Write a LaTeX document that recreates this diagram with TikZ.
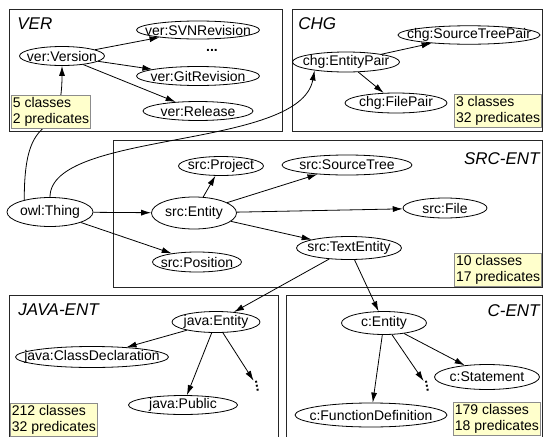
\documentclass[tikz,border=0pt]{standalone}
\usepackage{fontspec}
\setmainfont{Liberation Sans}
\usetikzlibrary{arrows.meta,shapes}
\definecolor{statyellow}{rgb}{1,1,0.8}
\tikzstyle{aS}=[every edge/.style={draw,-{Latex[length=10pt,width=6pt]}}]
\tikzstyle{Acls}=[draw,ellipse,inner sep=0pt,font=\fontsize{14}{16}\selectfont,
  execute at begin node={\hbox to 0pt\bgroup\hss},execute at end node={\hss\egroup}]
\tikzstyle{Amod}=[draw=black!85]
\tikzstyle{Astat}=[draw=black!45,fill=statyellow,inner xsep=1.5pt,inner ysep=2pt,
  align=left,font=\fontsize{14}{16}\selectfont]
\tikzstyle{Aname}=[inner sep=0pt,font=\fontsize{17}{17}\selectfont\itshape]
\tikzstyle{Adots}=[inner sep=1pt,font=\fontsize{14}{16}\selectfont\bfseries]

\begin{document}
\begin{tikzpicture}[aS,x=1pt,y=1pt,line width=0.8pt]
\useasboundingbox (0,0) rectangle (547,-437);

% modules
\draw[Amod] (9,-9) rectangle (282,-131);
\draw[Amod] (292,-9) rectangle (542,-131);
\draw[Amod] (113,-140) rectangle (542,-287);
\draw[Amod] (9,-295) rectangle (278,-445);
\draw[Amod] (286,-295) rectangle (542,-445);

\node[Aname,anchor=west] (verN) at (17,-24) {VER};
\node[Aname,anchor=west] (chgN) at (298,-24) {CHG};
\node[Aname,anchor=east] (srcN) at (540,-159) {SRC-ENT};
\node[Aname,anchor=west] (javaN) at (18,-310) {JAVA-ENT};
\node[Aname,anchor=east] (cN) at (540,-311) {C-ENT};

% classes
\node[Acls,minimum width=85pt,minimum height=19pt] (verV) at (62,-56) {ver:Version};
\node[Acls,minimum width=123pt,minimum height=18pt] (verS) at (198,-30) {ver:SVNRevision};
\node[Adots] (verD) at (212,-50) {...};
\node[Acls,minimum width=123pt,minimum height=19pt] (verG) at (198,-76) {ver:GitRevision};
\node[Acls,minimum width=110pt,minimum height=19pt] (verR) at (198,-111) {ver:Release};

\node[Acls,minimum width=142pt,minimum height=18pt] (chgS) at (469,-35) {chg:SourceTreePair};
\node[Acls,minimum width=107pt,minimum height=20pt] (chgE) at (346,-62) {chg:EntityPair};
\node[Acls,minimum width=102pt,minimum height=20pt] (chgF) at (396,-103) {chg:FilePair};

\node[Acls,minimum width=86pt,minimum height=29pt] (owl) at (50,-212) {owl:Thing};

\node[Acls,minimum width=85pt,minimum height=32pt] (srcE) at (194,-213) {src:Entity};
\node[Acls,minimum width=85pt,minimum height=19pt] (srcP) at (221,-166) {src:Project};
\node[Acls,minimum width=89pt,minimum height=20pt] (srcPos) at (197,-262) {src:Position};
\node[Acls,minimum width=130pt,minimum height=20pt] (srcST) at (347,-165) {src:SourceTree};
\node[Acls,minimum width=84pt,minimum height=20pt] (srcF) at (445,-208) {src:File};
\node[Acls,minimum width=105pt,minimum height=23pt] (srcT) at (349,-248) {src:TextEntity};

\node[Acls,minimum width=88pt,minimum height=21pt] (javaE) at (216,-322) {java:Entity};
\node[Acls,minimum width=153pt,minimum height=21pt] (javaC) at (92,-357) {java:ClassDeclaration};
\node[Acls,minimum width=109pt,minimum height=19pt] (javaP) at (183,-405) {java:Public};
\node[Adots,rotate=-80] (javaD) at (257,-386) {...};

\node[Acls,minimum width=85pt,minimum height=23pt] (cE) at (384,-323) {c:Entity};
\node[Acls,minimum width=105pt,minimum height=25pt] (cS) at (487,-377) {c:Statement};
\node[Acls,minimum width=152pt,minimum height=24pt] (cF) at (371,-415) {c:FunctionDefinition};
\node[Adots,rotate=-80] (cD) at (427,-386) {...};

% subclass links
\path
(verV) edge (verS) edge (verG) edge (verR)
(chgE) edge (chgS) edge (chgF)
(owl) edge (srcE) edge (srcPos)
(srcE) edge (srcP) edge (srcST) edge (srcF) edge (srcT)
(srcT) edge (javaE) edge (cE)
(javaE) edge (javaC) edge (javaP) edge (javaD)
(cE) edge (cF) edge (cD) edge (cS)
;
\draw[-{Latex[length=10pt,width=6pt]}] (owl.155) .. controls (24,-100) and (62,-150) .. (verV);
\draw[-{Latex[length=10pt,width=6pt]}] (owl.north) .. controls (50,-130) and (300,-150) .. (chgE.195);

% statistics
\node[Astat,anchor=south west] (verStat) at (11,-129) {5 classes\\2 predicates};
\node[Astat,anchor=south east] (chgStat) at (542,-128) {3 classes\\32 predicates};
\node[Astat,anchor=south east] (srcStat) at (542,-287) {10 classes\\17 predicates};
\node[Astat,anchor=north west] (javaStat) at (10,-403) {212 classes\\32 predicates};
\node[Astat,anchor=north west] (cStat) at (453,-402) {179 classes\\18 predicates};

\end{tikzpicture}
\end{document}
